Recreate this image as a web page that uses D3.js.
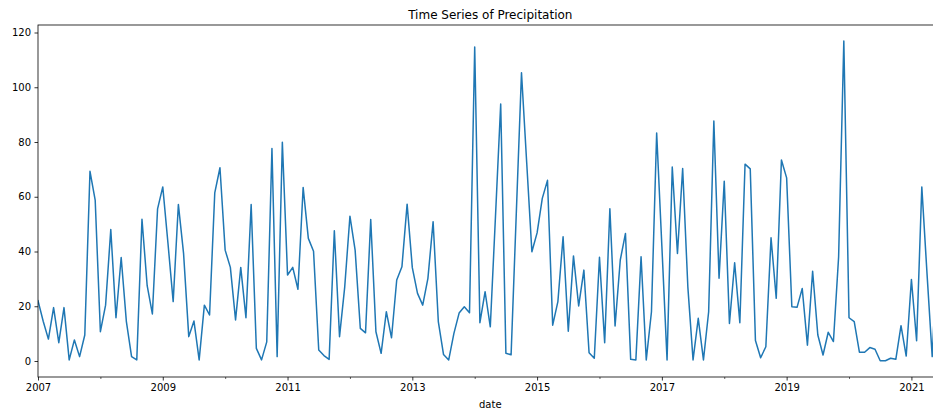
<!DOCTYPE html>
<html>
<head>
<meta charset="utf-8">
<script src="https://cdn.jsdelivr.net/npm/d3@7/dist/d3.min.js"></script>
<style>
  html, body { margin: 0; padding: 0; background: #fff; overflow: hidden; }
  svg { display: block; font-family: "DejaVu Sans", sans-serif; }
</style>
</head>
<body>
<svg id="chart" width="933" height="412"></svg>
<script>
// Monthly precipitation, starting January 2007
const startYear = 2007;
const precipitation = [
  22, 14.5, 8, 19.5, 6.7, 19.5, 0.4, 7.7, 1.6, 9.5, 69.3, 58.8,        // 2007
  10.7, 20.4, 48, 15.8, 37.8, 14.4, 1.6, 0.4, 51.8, 27.5, 17.2, 55.6,  // 2008
  63.6, 43, 21.7, 57.2, 39.3, 8.9, 14.6, 0.4, 20.4, 16.8, 61.4, 70.6,  // 2009
  40.5, 34.2, 15, 34.2, 15.8, 57.2, 4.6, 0.4, 7, 77.6, 1.6, 79.9,      // 2010
  31.4, 34.2, 26.2, 63.4, 44.8, 40.1, 4, 2, 0.6, 47.6, 8.9, 27.1,      // 2011
  52.9, 40.5, 11.9, 10.3, 51.7, 10.7, 2.8, 18, 8.5, 29.6, 34.4, 57.3,  // 2012
  34.1, 24.7, 20.4, 30.2, 50.9, 14.4, 2.4, 0.4, 10.1, 17.5, 19.8, 17.6,// 2013
  114.7, 14, 25.3, 12.5, 53, 93.9, 2.8, 2.3, 54, 105.3, 72.5, 39.9,    // 2014
  46.8, 59.4, 66, 13.1, 21.7, 45.4, 10.9, 38.4, 20.1, 33.2, 3, 1,      // 2015
  37.9, 6.7, 55.6, 12.8, 36.9, 46.6, 0.6, 0.4, 38.1, 0.4, 18, 83.3,    // 2016
  42, 0.4, 70.9, 39.3, 70.3, 27, 0.4, 15.6, 0.4, 18, 87.7, 30.2,       // 2017
  65.7, 13.7, 35.9, 14, 71.9, 70.2, 7.5, 1.2, 5.2, 45, 22.9, 73.4,     // 2018
  66.9, 19.8, 19.6, 26.5, 5.8, 32.8, 9.5, 2.2, 10.5, 7.1, 38.1, 116.9, // 2019
  15.8, 14.4, 3.2, 3.2, 4.9, 4.3, 0.1, 0.1, 1, 0.6, 12.9, 1.8,         // 2020
  29.8, 7.4, 63.6, 32, 1.6, 40, 15                                     // 2021
];
const yTicks = [0, 20, 40, 60, 80, 100, 120];
const xMajorYears = [2007, 2009, 2011, 2013, 2015, 2017, 2019, 2021];
const xMinorYears = [2008, 2010, 2012, 2014, 2016, 2018, 2020];
const titleText = "Time Series of Precipitation";
const xLabel = "date";

const svg = d3.select("#chart");
const axL = 38, axR = 942.6, axT = 25, axB = 377;

const n = precipitation.length;
const x = d3.scaleLinear().domain([0, n - 1]).range([axL, axR]);
const maxV = d3.max(precipitation), minV = Math.min(0, d3.min(precipitation));
const pad = (maxV - minV) * 0.05;
const y = d3.scaleLinear().domain([minV - pad, maxV + pad]).range([axB, axT]);

const monthIndex = yr => (yr - startYear) * 12;

// clip
svg.append("defs").append("clipPath").attr("id", "clip")
  .append("rect").attr("x", axL).attr("y", axT)
  .attr("width", axR - axL).attr("height", axB - axT);

// line
const line = d3.line().x((d, i) => x(i)).y(d => y(d));
svg.append("path")
  .datum(precipitation)
  .attr("clip-path", "url(#clip)")
  .attr("fill", "none")
  .attr("stroke", "#1f77b4")
  .attr("stroke-width", 1.5)
  .attr("stroke-linejoin", "round")
  .attr("stroke-linecap", "square")
  .attr("d", line);

// frame
svg.append("rect")
  .attr("x", axL).attr("y", axT)
  .attr("width", axR - axL).attr("height", axB - axT)
  .attr("fill", "none").attr("stroke", "#000").attr("stroke-width", 0.8);

// y axis
const yAxis = d3.axisLeft(y).tickValues(yTicks).tickSize(3.5).tickPadding(3.5)
  .tickFormat(d3.format("d"));
const gy = svg.append("g").attr("transform", `translate(${axL},0)`).call(yAxis);
gy.select(".domain").remove();
gy.selectAll(".tick line").attr("stroke", "#000").attr("stroke-width", 0.8);
gy.selectAll(".tick text").attr("font-size", 10).attr("fill", "#000")
  .attr("font-family", "DejaVu Sans");

// x axis major
const xAxis = d3.axisBottom(x).tickValues(xMajorYears.map(monthIndex))
  .tickSize(3.5).tickPadding(3.5)
  .tickFormat(v => String(startYear + v / 12));
const gx = svg.append("g").attr("transform", `translate(0,${axB})`).call(xAxis);
gx.select(".domain").remove();
gx.selectAll(".tick line").attr("stroke", "#000").attr("stroke-width", 0.8);
gx.selectAll(".tick text").attr("font-size", 10).attr("fill", "#000")
  .attr("font-family", "DejaVu Sans");

// x axis minor
const xMinor = d3.axisBottom(x).tickValues(xMinorYears.map(monthIndex))
  .tickSize(2).tickFormat("");
const gxm = svg.append("g").attr("transform", `translate(0,${axB})`).call(xMinor);
gxm.select(".domain").remove();
gxm.selectAll(".tick line").attr("stroke", "#000").attr("stroke-width", 0.6);

// title
svg.append("text")
  .attr("x", (axL + axR) / 2).attr("y", 18.5)
  .attr("text-anchor", "middle")
  .attr("font-size", 12).attr("fill", "#000")
  .text(titleText);

// x label
svg.append("text")
  .attr("x", (axL + axR) / 2).attr("y", 407.5)
  .attr("text-anchor", "middle")
  .attr("font-size", 10).attr("fill", "#000")
  .text(xLabel);
</script>
</body>
</html>
